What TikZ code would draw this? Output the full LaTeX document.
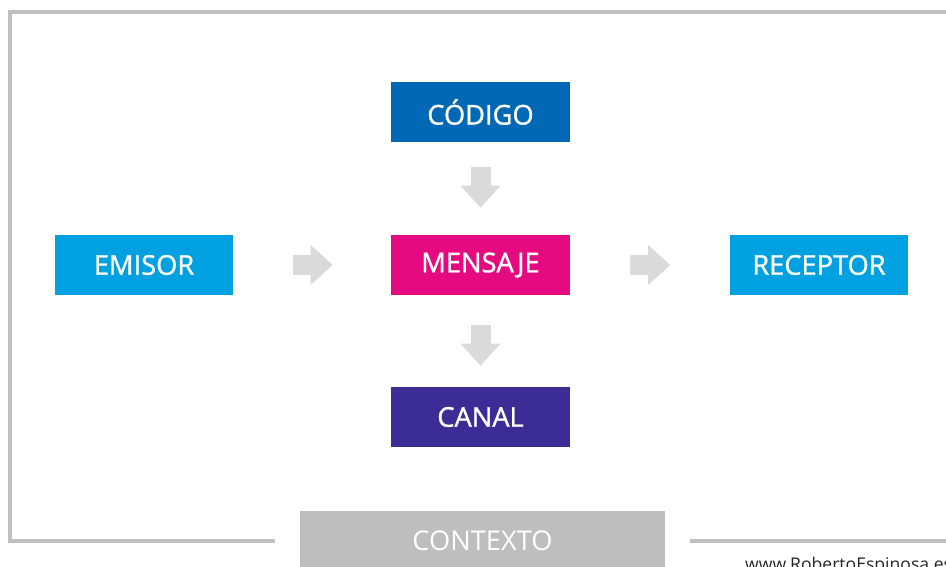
\documentclass[tikz,border=0pt]{standalone}
\usepackage{fontspec}
\setmainfont{Open Sans}
\newfontfamily\boxfont{Open Sans}[FakeBold=1.2]
\usepackage{xcolor}
\usepackage{tikz}
\usetikzlibrary{positioning,calc,arrows.meta}
\definecolor{codigobg}{RGB}{0,104,180}
\definecolor{mensajebg}{RGB}{230,10,128}
\definecolor{canalbg}{RGB}{60,44,150}
\definecolor{extremobg}{RGB}{0,160,225}
\definecolor{contextobg}{RGB}{190,190,190}
\definecolor{flechagris}{RGB}{218,218,218}
\definecolor{marcogris}{RGB}{192,192,192}

\begin{document}
\begin{tikzpicture}[x=0.02cm, y=-0.02cm,
    box/.style={rectangle, minimum width=3.58cm, minimum height=1.2cm, align=center, text=white, font=\boxfont\fontsize{15.5}{17}\selectfont},
    flecha/.style={-{Triangle[length=0.44cm, width=0.8cm, line width=0pt]}, line width=0.4cm, draw=flechagris}
]
\useasboundingbox (0,0) rectangle (946,567);
\clip (0,0) rectangle (946,567);

\node[box, fill=codigobg] (codigo) at (480.5,112) {CÓDIGO};
\node[box, fill=mensajebg] (mensaje) at (480.5,265) {MENSAJE};
\node[box, fill=canalbg] (canal) at (480.5,417) {CANAL};
\node[box, fill=extremobg] (emisor) at (144,265) {EMISOR};
\node[box, fill=extremobg] (receptor) at (819,265) {RECEPTOR};
\node[box, fill=contextobg, minimum width=7.3cm, font=\fontsize{15.5}{17}\selectfont] (contexto) at (482.5,541) {CONTEXTO};

\draw[marcogris, line width=0.08cm] ($(contexto.west)+(-25,0)$) -- (10,541) -- (10,12) -- (960,12);
\draw[marcogris, line width=0.08cm] ($(contexto.east)+(25,0)$) -- (960,541);

\draw[flecha, shorten <=0.5cm, shorten >=0.54cm] (codigo.south) -- (mensaje.north);
\draw[flecha, shorten <=0.6cm, shorten >=0.42cm] (mensaje.south) -- (canal.north);
\draw[flecha, shorten <=1.18cm, shorten >=1.16cm] (emisor.east) -- (mensaje.west);
\draw[flecha, shorten <=1.2cm, shorten >=1.18cm] (mensaje.east) -- (receptor.west);

\node[anchor=base west, font=\fontsize{10}{12}\selectfont, text=black!85] (web) at (739,570.5) {www.RobertoEspinosa.es};
\end{tikzpicture}
\end{document}
